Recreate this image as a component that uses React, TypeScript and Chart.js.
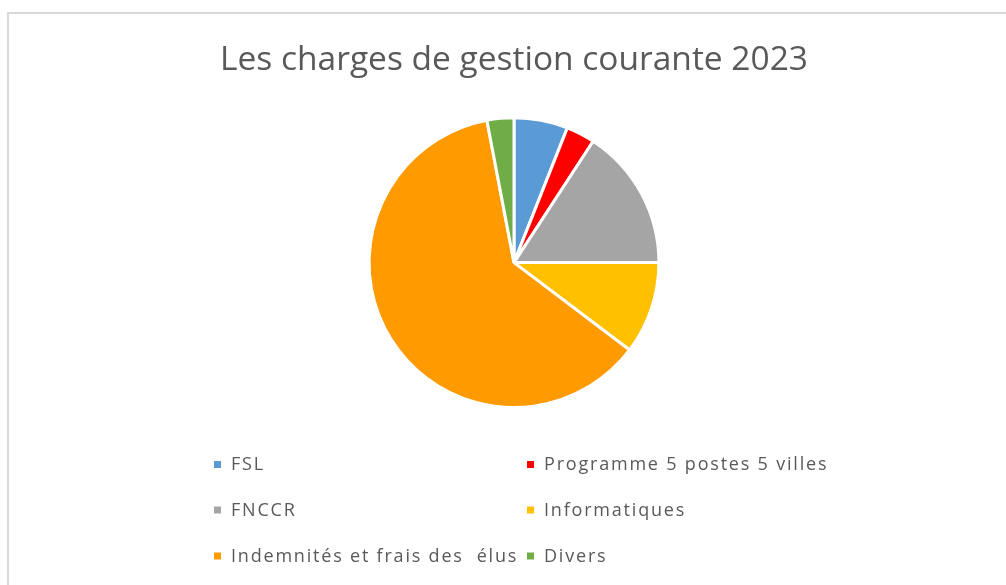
import React, { useEffect, useRef } from "react";
import { Chart, registerables } from "chart.js";

Chart.register(...registerables);

const TITLE = "Les charges de gestion courante 2023";
const categories = [
  "FSL",
  "Programme 5 postes 5 villes",
  "FNCCR",
  "Informatiques",
  "Indemnités et frais des  élus",
  "Divers",
];
const values = [6.0, 3.2, 15.8, 10.3, 61.7, 3.0];
const colors = ["#5B9BD5", "#FF0000", "#A5A5A5", "#FFC000", "#FF9A00", "#70AD47"];

const frameAndLegend = {
  id: "frameAndLegend",
  beforeDraw(chart: any) {
    const ctx = chart.ctx;
    ctx.save();
    ctx.fillStyle = "#ffffff";
    ctx.fillRect(0, 0, chart.width, chart.height);
    ctx.strokeStyle = "#d9d9d9";
    ctx.lineWidth = 2;
    ctx.strokeRect(8, 13, chart.width + 100, chart.height + 100);
    ctx.restore();
  },
  afterDraw(chart: any) {
    const ctx = chart.ctx;
    const labels: string[] = chart.data.labels;
    const bg: string[] = chart.data.datasets[0].backgroundColor;
    const colX = [214, 527];
    const rowY = [464, 509.5, 555.5];
    ctx.save();
    ctx.font = "18px 'Open Sans'";
    (ctx as any).letterSpacing = "1.8px";
    ctx.textBaseline = "middle";
    ctx.textAlign = "left";
    labels.forEach((lab, i) => {
      const x = colX[i % 2];
      const y = rowY[Math.floor(i / 2)];
      ctx.fillStyle = bg[i];
      ctx.fillRect(x, y - 3, 7, 7);
      ctx.fillStyle = "#595959";
      ctx.fillText(lab, x + 17, y + 1);
    });
    ctx.restore();
  },
};

export default function App() {
  const ref = useRef<HTMLCanvasElement | null>(null);
  useEffect(() => {
    if (!ref.current) return;
    const chart = new Chart(ref.current, {
      type: "pie",
      data: {
        labels: categories,
        datasets: [
          {
            data: values,
            backgroundColor: colors,
            borderColor: "#ffffff",
            borderWidth: 3,
            hoverOffset: 0,
          },
        ],
      },
      options: {
        responsive: false,
        animation: false,
        layout: { padding: { left: 22, right: 0, top: 0, bottom: 176 } },
        plugins: {
          legend: { display: false },
          tooltip: { enabled: false },
          title: {
            display: true,
            text: TITLE,
            color: "#595959",
            font: { family: "'Open Sans'", size: 33.5, weight: "normal" },
            padding: { top: 40, bottom: 36 },
          },
        },
      },
      plugins: [frameAndLegend],
    });
    return () => chart.destroy();
  }, []);
  return (
    <div style={{ position: "absolute", left: 0, top: 0, width: 1006, height: 585 }}>
      <canvas ref={ref} width={1006} height={585} style={{ display: "block" }} />
    </div>
  );
}
